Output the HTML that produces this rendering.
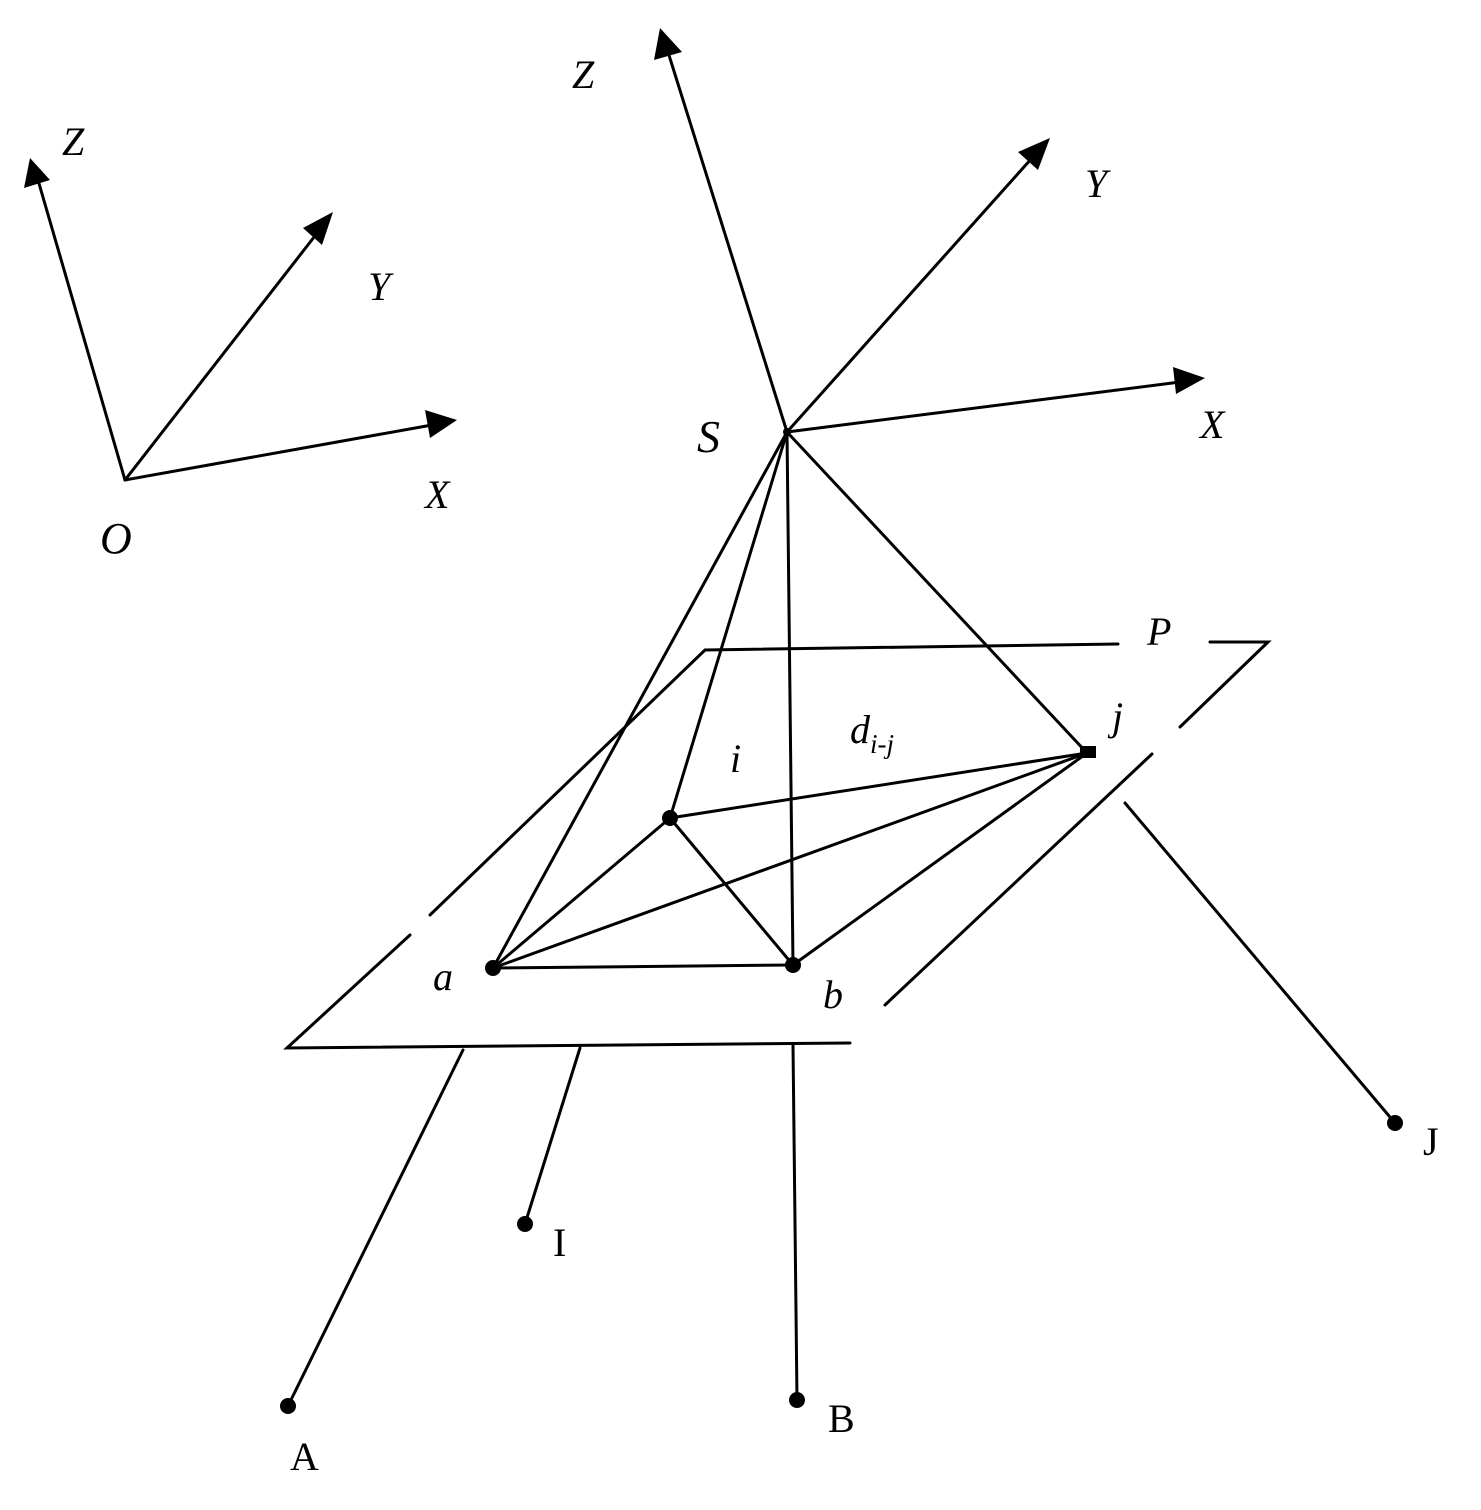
<!DOCTYPE html>
<html><head><style>html,body{margin:0;padding:0;background:#fff}</style></head>
<body>
<svg width="1481" height="1505" viewBox="0 0 1481 1505" xmlns="http://www.w3.org/2000/svg">
<g stroke="#000" stroke-width="3" fill="none" stroke-linecap="round">
<line x1="125" y1="480" x2="38" y2="180"/>
<line x1="125" y1="480" x2="318" y2="232"/>
<line x1="125" y1="480" x2="432" y2="425"/>
<line x1="787" y1="432" x2="668" y2="52"/>
<line x1="787" y1="432" x2="1032" y2="158"/>
<line x1="787" y1="432" x2="1180" y2="382"/>
<polyline points="410,935 287,1048 850,1043"/>
<polyline points="430,915 705,650 1118,644"/>
<polyline points="1210,642 1268,642 1180,727"/>
<line x1="1152" y1="754" x2="885" y2="1005"/>
<line x1="787" y1="432" x2="493" y2="968"/>
<line x1="787" y1="432" x2="670" y2="818"/>
<line x1="787" y1="432" x2="793" y2="965"/>
<line x1="787" y1="432" x2="1087" y2="753"/>
<line x1="670" y1="818" x2="1087" y2="753"/>
<line x1="670" y1="818" x2="493" y2="968"/>
<line x1="670" y1="818" x2="793" y2="965"/>
<line x1="493" y1="968" x2="793" y2="965"/>
<line x1="493" y1="968" x2="1087" y2="753"/>
<line x1="793" y1="965" x2="1087" y2="753"/>
<line x1="463" y1="1050" x2="288" y2="1406"/>
<line x1="580" y1="1048" x2="525" y2="1224"/>
<line x1="793" y1="1045" x2="797" y2="1400"/>
<line x1="1125" y1="803" x2="1395" y2="1123"/>
</g>
<g fill="#000">
<polygon points="30,158 24,188 50,180"/>
<polygon points="333,212 303,228 322,245"/>
<polygon points="457,420 425,410 430,438"/>
<polygon points="660,28 654,60 682,52"/>
<polygon points="1050,138 1018,152 1038,170"/>
<polygon points="1205,378 1173,367 1176,394"/>
<circle cx="493" cy="968" r="8"/><circle cx="793" cy="965" r="8"/>
<circle cx="670" cy="818" r="8"/><rect x="1080" y="746" width="16" height="12"/>
<circle cx="288" cy="1406" r="8"/><circle cx="525" cy="1224" r="8"/>
<circle cx="797" cy="1400" r="8"/><circle cx="1395" cy="1123" r="8"/>
<circle cx="787" cy="432" r="4"/>
</g>
<g font-family="Liberation Serif, serif" font-size="40" fill="#000" font-style="italic">
<text x="62" y="155">Z</text><text x="368" y="300">Y</text><text x="425" y="508">X</text><text x="100" y="553" font-size="44">O</text>
<text x="572" y="88">Z</text><text x="1085" y="197">Y</text><text x="1200" y="438">X</text><text x="697" y="452" font-size="46">S</text>
<text x="1147" y="645">P</text><text x="1112" y="730">j</text><text x="730" y="772">i</text>
<text x="850" y="743">d<tspan font-size="27" dy="10">i-j</tspan></text>
<text x="433" y="990">a</text><text x="823" y="1008">b</text>
</g>
<g font-family="Liberation Serif, serif" font-size="40" fill="#000">
<text x="553" y="1256">I</text><text x="290" y="1470">A</text><text x="828" y="1432">B</text><text x="1423" y="1155">J</text>
</g>
</svg>
</body></html>
